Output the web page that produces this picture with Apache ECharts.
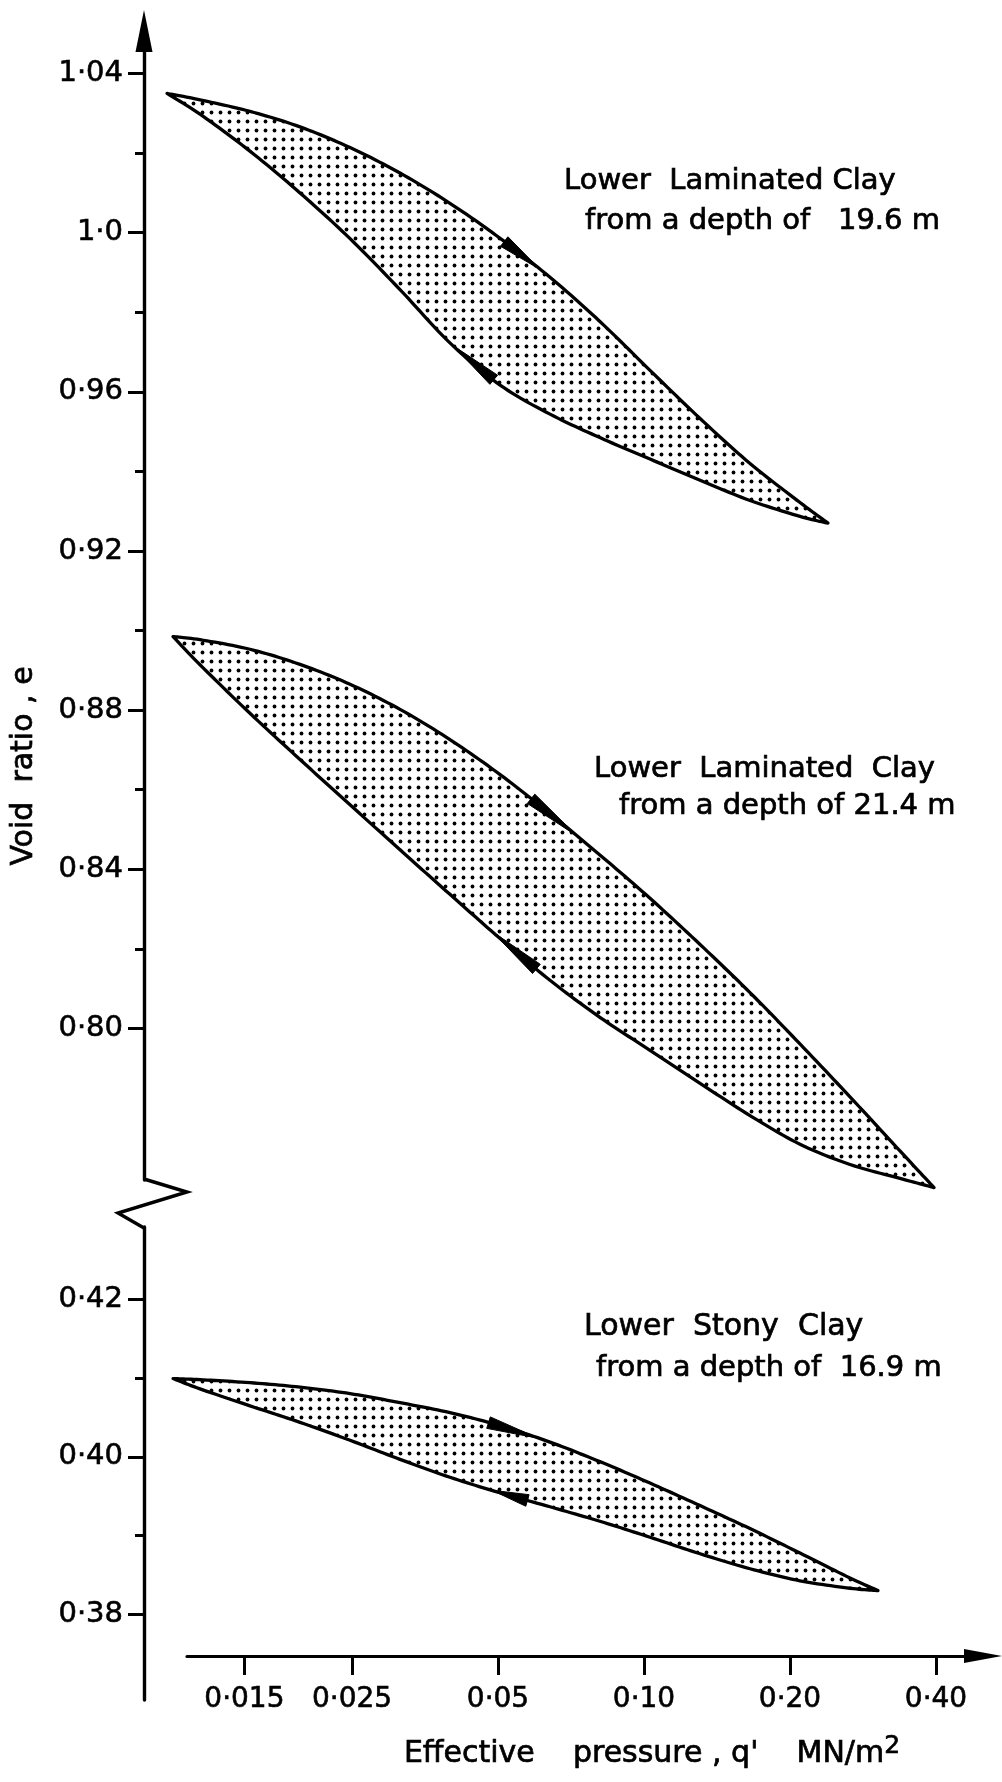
<!DOCTYPE html>
<html>
<head>
<meta charset="utf-8">
<script src="https://cdn.jsdelivr.net/npm/echarts@6/dist/echarts.min.js"></script>
<style>
html,body{margin:0;padding:0;background:#fff;}
#chart{width:1002px;height:1782px;}
</style>
</head>
<body>
<div id="chart"></div>
<script>
// ---------------- data ----------------
const xTicks = [0.015, 0.025, 0.05, 0.10, 0.20, 0.40];
const xTickLabels = ['0·015', '0·025', '0·05', '0·10', '0·20', '0·40'];

const yUpperTicks = [0.80, 0.84, 0.88, 0.92, 0.96, 1.00, 1.04];
const yUpperLabels = ['0·80', '0·84', '0·88', '0·92', '0·96', '1·0', '1·04'];
const yUpperMinor = [0.82, 0.86, 0.90, 0.94, 0.98, 1.02];

const yLowerTicks = [0.38, 0.40, 0.42];
const yLowerLabels = ['0·38', '0·40', '0·42'];
const yLowerMinor = [0.39, 0.41];

// Loop C : Lower Laminated Clay, 19.6 m  (pressure MN/m2, void ratio)
const cPressure = [0.01039, 0.01215, 0.0154, 0.01953, 0.02477, 0.0314, 0.0398, 0.0505, 0.0640, 0.0811, 0.1029, 0.1305, 0.1654, 0.2097, 0.2395];
const cLoadE    = [1.0350, 1.0334, 1.0305, 1.0266, 1.0214, 1.0150, 1.0074, 0.9986, 0.9888, 0.9777, 0.9654, 0.9533, 0.9420, 0.9322, 0.9270];
const cUnloadE  = [1.0350, 1.0298, 1.0205, 1.0100, 0.9985, 0.9857, 0.9723, 0.9617, 0.9544, 0.9485, 0.9431, 0.9378, 0.9327, 0.9287, 0.9270];

// Loop B : Lower Laminated Clay, 21.4 m
const bPressure = [0.01069, 0.01215, 0.0154, 0.01953, 0.02477, 0.0314, 0.0398, 0.0505, 0.0640, 0.0811, 0.1029, 0.1305, 0.1654, 0.2097, 0.2659, 0.3371, 0.3963];
const bLoadE    = [0.8985, 0.8977, 0.8953, 0.8915, 0.8865, 0.8802, 0.8726, 0.8638, 0.8540, 0.8436, 0.8327, 0.8211, 0.8090, 0.7961, 0.7828, 0.7692, 0.7600];
const bUnloadE  = [0.8985, 0.8914, 0.8792, 0.8676, 0.8562, 0.8449, 0.8337, 0.8226, 0.8121, 0.8028, 0.7945, 0.7862, 0.7781, 0.7709, 0.7658, 0.7623, 0.7600];

// Loop A : Lower Stony Clay, 16.9 m
const aPressure = [0.01069, 0.01215, 0.0154, 0.01953, 0.02477, 0.0314, 0.0398, 0.0505, 0.0640, 0.0811, 0.1029, 0.1305, 0.1654, 0.2097, 0.2659, 0.3037];
const aLoadE    = [0.40994, 0.40980, 0.40942, 0.40885, 0.40803, 0.40688, 0.40561, 0.40396, 0.40187, 0.39939, 0.39666, 0.39380, 0.39088, 0.38777, 0.38460, 0.38300];
const aUnloadE  = [0.40994, 0.40863, 0.40648, 0.40438, 0.40210, 0.39968, 0.39740, 0.39543, 0.39365, 0.39181, 0.38978, 0.38768, 0.38578, 0.38425, 0.38330, 0.38300];

// direction arrows: [tail pressure, tip pressure] on the loading / unloading branch
const cArrowLoad = [0.0515, 0.0610];
const cArrowUnload = [0.0490, 0.0404];
const bArrowLoad = [0.0585, 0.0727];
const bArrowUnload = [0.0600, 0.0486];
const aArrowLoad = [0.0478, 0.0605];
const aArrowUnload = [0.0575, 0.0486];

// ---------------- helpers ----------------
const FONT = '"DejaVu Sans", "Liberation Sans", sans-serif';

function labelFor(v, ticks, labels) {
  let best = 0, d = Infinity;
  ticks.forEach((t, i) => { const dd = Math.abs(t - v); if (dd < d) { d = dd; best = i; } });
  return labels[best];
}

function interpE(P, E, p) {
  const lp = Math.log(p);
  for (let i = 0; i < P.length - 1; i++) {
    const a = Math.log(P[i]), b = Math.log(P[i + 1]);
    if (lp >= a && lp <= b) {
      const t = (lp - a) / (b - a);
      return E[i] + t * (E[i + 1] - E[i]);
    }
  }
  return lp < Math.log(P[0]) ? E[0] : E[E.length - 1];
}

function spline(pts, seg) {
  const out = [];
  const n = pts.length;
  for (let i = 0; i < n - 1; i++) {
    const p0 = pts[Math.max(i - 1, 0)], p1 = pts[i], p2 = pts[i + 1], p3 = pts[Math.min(i + 2, n - 1)];
    for (let k = 0; k < seg; k++) {
      const t = k / seg, t2 = t * t, t3 = t2 * t;
      out.push([0, 1].map(j => 0.5 * ((2 * p1[j]) + (-p0[j] + p2[j]) * t +
        (2 * p0[j] - 5 * p1[j] + 4 * p2[j] - p3[j]) * t2 +
        (-p0[j] + 3 * p1[j] - 3 * p2[j] + p3[j]) * t3)));
    }
  }
  out.push(pts[n - 1]);
  return out;
}

// stipple pattern
const pc = document.createElement('canvas');
pc.width = 9; pc.height = 9;
(function () {
  const ctx = pc.getContext('2d');
  ctx.fillStyle = '#ffffff'; ctx.fillRect(0, 0, 9, 9);
  ctx.fillStyle = '#000000';
  ctx.beginPath(); ctx.arc(4.5, 4.5, 1.9, 0, Math.PI * 2); ctx.fill();
})();
const stipple = { image: pc, repeat: 'repeat' };

function arrowShape(api, P, E, pr) {
  const tail = api.coord([pr[0], interpE(P, E, pr[0])]);
  const tip = api.coord([pr[1], interpE(P, E, pr[1])]);
  const dx = tip[0] - tail[0], dy = tip[1] - tail[1];
  const L = Math.sqrt(dx * dx + dy * dy) || 1;
  const nx = -dy / L, ny = dx / L, w = 6;
  return {
    type: 'polygon',
    shape: { points: [tip, [tail[0] + nx * w, tail[1] + ny * w], [tail[0] - nx * w, tail[1] - ny * w]] },
    style: { fill: '#000', stroke: '#000', lineWidth: 1 }
  };
}

function loopRenderer(P, LE, UE, arrowL, arrowU) {
  return function (params, api) {
    const up = P.map((p, i) => api.coord([p, LE[i]]));
    const lo = P.map((p, i) => api.coord([p, UE[i]]));
    const pts = spline(up, 12).concat(spline(lo, 12).reverse());
    return {
      type: 'group',
      children: [
        { type: 'polygon', shape: { points: pts },
          style: { fill: stipple, stroke: '#000', lineWidth: 3.3, lineJoin: 'round' } },
        arrowShape(api, P, LE, arrowL),
        arrowShape(api, P, UE, arrowU)
      ]
    };
  };
}

// ---------------- chart ----------------
const chart = echarts.init(document.getElementById('chart'), null, { renderer: 'canvas' });

const hiddenX = (grid, min) => ({
  type: 'log', gridIndex: grid, logBase: 10, min: min, max: 0.5, show: false
});

const labelStyle = {
  color: '#000', fontFamily: FONT, fontSize: 29,
  textBorderColor: '#000', textBorderWidth: 0.6
};

function txt(x, y, text, size, align, bg) {
  const style = { text: text, font: size + 'px ' + FONT, fill: '#000', align: align || 'left',
    verticalAlign: 'middle', stroke: '#000', lineWidth: 0.7 };
  if (bg) { style.backgroundColor = '#fff'; style.padding = [0, 1]; }
  return { type: 'text', x: x, y: y, silent: true, style: style };
}

const option = {
  backgroundColor: '#ffffff',
  animation: false,
  grid: [
    { left: 144, top: 31, width: 839, height: 1149, outerBoundsMode: 'none' },
    { left: 144, top: 1227, width: 839, height: 473, outerBoundsMode: 'none' },
    { left: 187, top: 1655, width: 796, height: 1, outerBoundsMode: 'none' }
  ],
  xAxis: [
    hiddenX(0, 0.009313),
    hiddenX(1, 0.009313),
    {
      type: 'log', gridIndex: 2, logBase: 10, min: 0.011421, max: 0.5, position: 'bottom',
      axisLine: { show: true, onZero: false, lineStyle: { color: '#000', width: 3.2 },
        symbol: ['none', 'triangle'], symbolSize: [14, 38] },
      axisTick: { show: true, customValues: xTicks, length: 19, inside: false,
        lineStyle: { color: '#000', width: 3 } },
      minorTick: { show: false },
      axisLabel: Object.assign({ show: true, customValues: xTicks, margin: 30,
        formatter: v => labelFor(v, xTicks, xTickLabels) }, labelStyle, { fontSize: 28 }),
      splitLine: { show: false }
    }
  ],
  yAxis: [
    {
      type: 'value', gridIndex: 0, min: 0.7619, max: 1.0507, position: 'left',
      axisLine: { show: true, onZero: false, lineStyle: { color: '#000', width: 3.4 },
        symbol: ['none', 'triangle'], symbolSize: [17, 42] },
      axisTick: { show: true, customValues: yUpperTicks, length: 16, lineStyle: { color: '#000', width: 3 } },
      axisLabel: Object.assign({ show: true, customValues: yUpperTicks, margin: 21,
        formatter: v => labelFor(v, yUpperTicks, yUpperLabels) }, labelStyle),
      splitLine: { show: false }
    },
    {
      type: 'value', gridIndex: 0, min: 0.7619, max: 1.0507, position: 'left',
      axisLine: { show: false, onZero: false },
      axisTick: { show: true, customValues: yUpperMinor, length: 9, lineStyle: { color: '#000', width: 3 } },
      axisLabel: { show: false },
      splitLine: { show: false }
    },
    {
      type: 'value', gridIndex: 1, min: 0.3691, max: 0.4292, position: 'left',
      axisLine: { show: true, onZero: false, lineStyle: { color: '#000', width: 3.4 } },
      axisTick: { show: true, customValues: yLowerTicks, length: 16, lineStyle: { color: '#000', width: 3 } },
      axisLabel: Object.assign({ show: true, customValues: yLowerTicks, margin: 21,
        formatter: v => labelFor(v, yLowerTicks, yLowerLabels) }, labelStyle),
      splitLine: { show: false }
    },
    {
      type: 'value', gridIndex: 1, min: 0.3691, max: 0.4292, position: 'left',
      axisLine: { show: false, onZero: false },
      axisTick: { show: true, customValues: yLowerMinor, length: 9, lineStyle: { color: '#000', width: 3 } },
      axisLabel: { show: false },
      splitLine: { show: false }
    },
    { type: 'value', gridIndex: 2, min: 0, max: 1, show: false }
  ],
  series: [
    { type: 'custom', name: 'C', coordinateSystem: 'cartesian2d', xAxisIndex: 0, yAxisIndex: 0,
      data: [[cPressure[0], cLoadE[0]]], silent: true,
      renderItem: loopRenderer(cPressure, cLoadE, cUnloadE, cArrowLoad, cArrowUnload) },
    { type: 'custom', name: 'B', coordinateSystem: 'cartesian2d', xAxisIndex: 0, yAxisIndex: 0,
      data: [[bPressure[0], bLoadE[0]]], silent: true,
      renderItem: loopRenderer(bPressure, bLoadE, bUnloadE, bArrowLoad, bArrowUnload) },
    { type: 'custom', name: 'A', coordinateSystem: 'cartesian2d', xAxisIndex: 1, yAxisIndex: 2,
      data: [[aPressure[0], aLoadE[0]]], silent: true,
      renderItem: loopRenderer(aPressure, aLoadE, aUnloadE, aArrowLoad, aArrowUnload) }
  ],
  graphic: [
    // axis break zig-zag on the y axis
    { type: 'polyline', silent: true,
      shape: { points: [[144, 1179], [187, 1192], [118, 1213], [144, 1228]] },
      style: { stroke: '#000', lineWidth: 3.4, fill: null, lineJoin: 'miter' } },
    // loop letters
    txt(484, 297, 'C', 28, 'center', true),
    txt(487, 845, 'B', 28, 'center', true),
    txt(490, 1458, 'A', 28, 'center', true),
    // annotations
    txt(564, 181, 'Lower  Laminated Clay', 29),
    txt(585, 221, 'from a depth of   19.6 m', 29),
    txt(594, 769, 'Lower  Laminated  Clay', 29),
    txt(619, 806, 'from a depth of 21.4 m', 29),
    txt(584, 1327, 'Lower  Stony  Clay', 30),
    txt(596, 1368, 'from a depth of  16.9 m', 29),
    // axis titles
    { type: 'text', x: 24, y: 766, rotation: Math.PI / 2, silent: true,
      style: { text: 'Void  ratio , e', font: '30px ' + FONT, fill: '#000', align: 'center', verticalAlign: 'middle',
        stroke: '#000', lineWidth: 0.7 } },
    { type: 'text', x: 652, y: 1754, silent: true,
      style: { text: "{a|Effective    pressure , q'    MN/m}{b|2}", align: 'center', verticalAlign: 'middle',
        rich: {
          a: { fontFamily: FONT, fontSize: 30, fill: '#000', stroke: '#000', lineWidth: 0.7 },
          b: { fontFamily: FONT, fontSize: 25, fill: '#000', stroke: '#000', lineWidth: 0.7, padding: [0, 0, 16, 0] }
        } } }
  ]
};

chart.setOption(option);
</script>
</body>
</html>
